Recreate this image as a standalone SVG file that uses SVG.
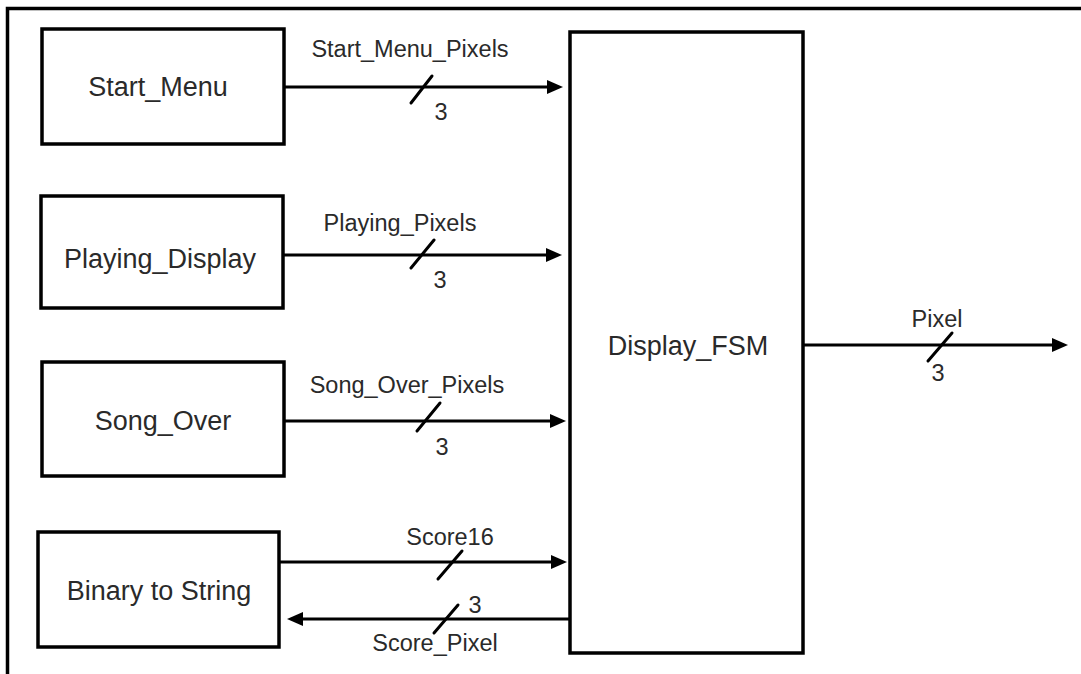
<svg xmlns="http://www.w3.org/2000/svg" width="1081" height="674" viewBox="0 0 1081 674">
  <defs>
    <marker id="arrow" markerUnits="userSpaceOnUse" markerWidth="16" markerHeight="14" refX="8" refY="7" orient="auto">
      <path d="M0,0 L16,7 L0,14 z" fill="#000"/>
    </marker>
    <style>
      .box { fill: #fff; stroke: #000; stroke-width: 3.5; }
      .frame { fill: none; stroke: #000; stroke-width: 3.5; }
      .wire { fill: none; stroke: #000; stroke-width: 3; marker-end: url(#arrow); }
      .bus { fill: none; stroke: #000; stroke-width: 3; stroke-linecap: round; }
      .name { font-family: "Liberation Sans", Arial, sans-serif; font-size: 27px; fill: #2a2a2a; text-anchor: middle; }
      .lbl { font-family: "Liberation Sans", Arial, sans-serif; font-size: 23.5px; fill: #2a2a2a; text-anchor: middle; }
    </style>
  </defs>

  <rect width="1081" height="674" fill="#fff"/>

  <!-- page frame -->
  <path class="frame" d="M7.5,674 L7.5,8.5 L1081,8.5"/>

  <!-- blocks -->
  <g id="start_menu">
    <rect class="box" x="42" y="29" width="242" height="115"/>
    <text class="name" x="158" y="96">Start_Menu</text>
  </g>
  <g id="playing_display">
    <rect class="box" x="41" y="196" width="242" height="112"/>
    <text class="name" x="160" y="268">Playing_Display</text>
  </g>
  <g id="song_over">
    <rect class="box" x="42" y="362" width="242" height="114"/>
    <text class="name" x="163" y="430">Song_Over</text>
  </g>
  <g id="binary_to_string">
    <rect class="box" x="38" y="532" width="241" height="115"/>
    <text class="name" x="159" y="600">Binary to String</text>
  </g>
  <g id="display_fsm">
    <rect class="box" x="570" y="32" width="233" height="621"/>
    <text class="name" x="688" y="355">Display_FSM</text>
  </g>

  <!-- connectors -->
  <g id="connectors">
    <line class="wire" x1="284" y1="87" x2="555" y2="87"/>
    <line class="bus" x1="411" y1="103" x2="432" y2="76"/>
    <text class="lbl" x="410" y="57">Start_Menu_Pixels</text>
    <text class="lbl" x="441" y="120">3</text>

    <line class="wire" x1="283" y1="255" x2="554" y2="255"/>
    <line class="bus" x1="411" y1="268" x2="434" y2="240"/>
    <text class="lbl" x="400" y="231">Playing_Pixels</text>
    <text class="lbl" x="440" y="288">3</text>

    <line class="wire" x1="284" y1="421" x2="558" y2="421"/>
    <line class="bus" x1="417" y1="431" x2="440" y2="403"/>
    <text class="lbl" x="407" y="393">Song_Over_Pixels</text>
    <text class="lbl" x="442" y="455">3</text>

    <line class="wire" x1="279" y1="562" x2="559" y2="562"/>
    <line class="bus" x1="438" y1="579" x2="462" y2="551"/>
    <text class="lbl" x="450" y="545">Score16</text>

    <line class="wire" x1="570" y1="619" x2="295" y2="619"/>
    <line class="bus" x1="434" y1="633" x2="458" y2="605"/>
    <text class="lbl" x="475" y="613">3</text>
    <text class="lbl" x="435" y="651">Score_Pixel</text>

    <line class="wire" x1="803" y1="345" x2="1060" y2="345"/>
    <line class="bus" x1="928" y1="361" x2="952" y2="333"/>
    <text class="lbl" x="937" y="327">Pixel</text>
    <text class="lbl" x="938" y="381">3</text>
  </g>
</svg>
